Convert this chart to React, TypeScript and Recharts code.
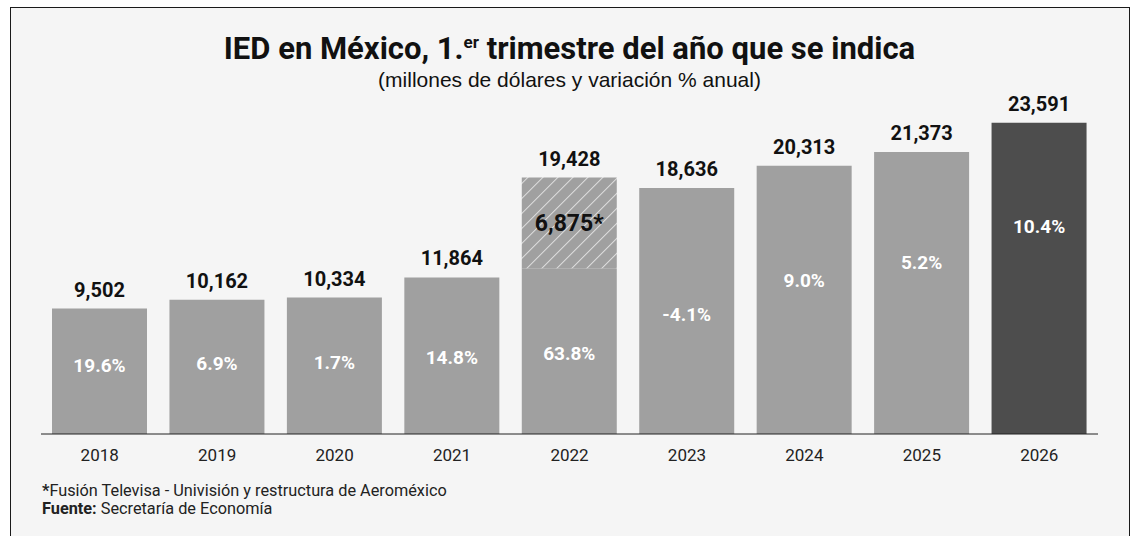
import React from "react";
import { BarChart, Bar, XAxis, YAxis, LabelList, Cell } from "recharts";

const years = ["2018", "2019", "2020", "2021", "2022", "2023", "2024", "2025", "2026"];
const totals = [9502, 10162, 10334, 11864, 19428, 18636, 20313, 21373, 23591];
const extraordinary = [0, 0, 0, 0, 6875, 0, 0, 0, 0];
const variation = ["19.6%", "6.9%", "1.7%", "14.8%", "63.8%", "-4.1%", "9.0%", "5.2%", "10.4%"];
const highlightYear = "2026";

// style: where the % label sits, as a fraction of the solid bar height from its base
const pctLabelLevel = [0.547, 0.53, 0.525, 0.49, 0.485, 0.488, 0.573, 0.61, 0.666];

const data = years.map((y, i) => ({
  year: y,
  base: totals[i] - extraordinary[i],
  extra: extraordinary[i] > 0 ? extraordinary[i] : null,
  total: totals[i],
  pct: variation[i],
}));

const fmt = (v: number) => v.toLocaleString("en-US");
const NUM_FONT = "Roboto, 'Noto Sans', sans-serif";

const BaseLabel = (props: any) => {
  const { x, y, width, height, index } = props;
  const d = data[index];
  const pxPerUnit = height / d.base;
  const topY = y + height - d.total * pxPerUnit;
  const cx = x + width / 2;
  const pctCenter = y + height * (1 - pctLabelLevel[index]);
  return (
    <g>
      <text x={cx} y={topY - 12} textAnchor="middle" fontFamily={NUM_FONT} fontWeight={700} fontSize={20} fill="#111">
        {fmt(d.total)}
      </text>
      <text x={cx} y={pctCenter + 6.8} textAnchor="middle" fontFamily={NUM_FONT} fontWeight={700} fontSize={19} fill="#ffffff">
        {d.pct}
      </text>
    </g>
  );
};

const ExtraLabel = (props: any) => {
  const { x, y, width, height, value } = props;
  if (value == null || !height) return null;
  return (
    <text x={x + width / 2} y={y + height / 2 + 8} textAnchor="middle" fontFamily={NUM_FONT} fontWeight={700} fontSize={23} fill="#111">
      {fmt(Number(value))}*
    </text>
  );
};

export default function App() {
  return (
    <div style={{ position: "fixed", left: 0, top: 0, width: 1139, height: 536, background: "#ffffff", overflow: "hidden" }}>
      <svg width={0} height={0} style={{ position: "absolute" }}>
        <defs>
          <pattern id="hatch" patternUnits="userSpaceOnUse" width={10.6} height={10.6} patternTransform="rotate(45)">
            <rect width={10.6} height={10.6} fill="#a0a0a0" />
            <line x1={0} y1={0} x2={0} y2={10.6} stroke="#ffffff" strokeWidth={1.3} />
          </pattern>
        </defs>
      </svg>
      <div
        style={{
          position: "absolute",
          left: 10,
          top: 7,
          width: 1120,
          height: 600,
          border: "1.5px solid #1a1a1a",
          background: "#f5f5f5",
          boxSizing: "border-box",
        }}
      />
      <div style={{ position: "absolute", left: 0, top: 0 }}>
        <BarChart width={1139} height={536} data={data} margin={{ top: 122.6, right: 41, bottom: 0, left: 41 }} barSize={95}>
          <XAxis
            dataKey="year"
            height={102}
            tickLine={false}
            tickMargin={9}
            axisLine={{ stroke: "#222", strokeWidth: 1 }}
            tick={{ fontFamily: NUM_FONT, fontSize: 17, fill: "#222" }}
            interval={0}
          />
          <YAxis hide domain={[0, 23591]} allowDataOverflow />
          <Bar dataKey="base" stackId="a" isAnimationActive={false}>
            {data.map((d) => (
              <Cell key={d.year} fill={d.year === highlightYear ? "#4d4d4d" : "#a0a0a0"} />
            ))}
            <LabelList dataKey="base" content={BaseLabel} />
          </Bar>
          <Bar dataKey="extra" stackId="a" fill="url(#hatch)" isAnimationActive={false}>
            <LabelList dataKey="extra" content={ExtraLabel} />
          </Bar>
        </BarChart>
      </div>
      <svg width={1139} height={536} style={{ position: "absolute", left: 0, top: 0, pointerEvents: "none" }}>
        <text x={569.5} y={59} textAnchor="middle" fontFamily={NUM_FONT} fontWeight={700} fontSize={31} fill="#111">
          IED en México, 1.
          <tspan dy={-11} fontSize={17}>er</tspan>
          <tspan dy={11}> trimestre del año que se indica</tspan>
        </text>
        <text x={569.5} y={87} textAnchor="middle" fontFamily="'Liberation Sans', Arial, sans-serif" fontSize={21} fill="#111">
          (millones de dólares y variación % anual)
        </text>
        <text x={42} y={496} fontFamily={NUM_FONT} fontSize={16.3} fill="#222">
          <tspan fontWeight={700}>*</tspan>Fusión Televisa - Univisión y restructura de Aeroméxico
        </text>
        <text x={42} y={514} fontFamily={NUM_FONT} fontSize={16.3} fill="#222">
          <tspan fontWeight={700}>Fuente:</tspan> Secretaría de Economía
        </text>
      </svg>
    </div>
  );
}
